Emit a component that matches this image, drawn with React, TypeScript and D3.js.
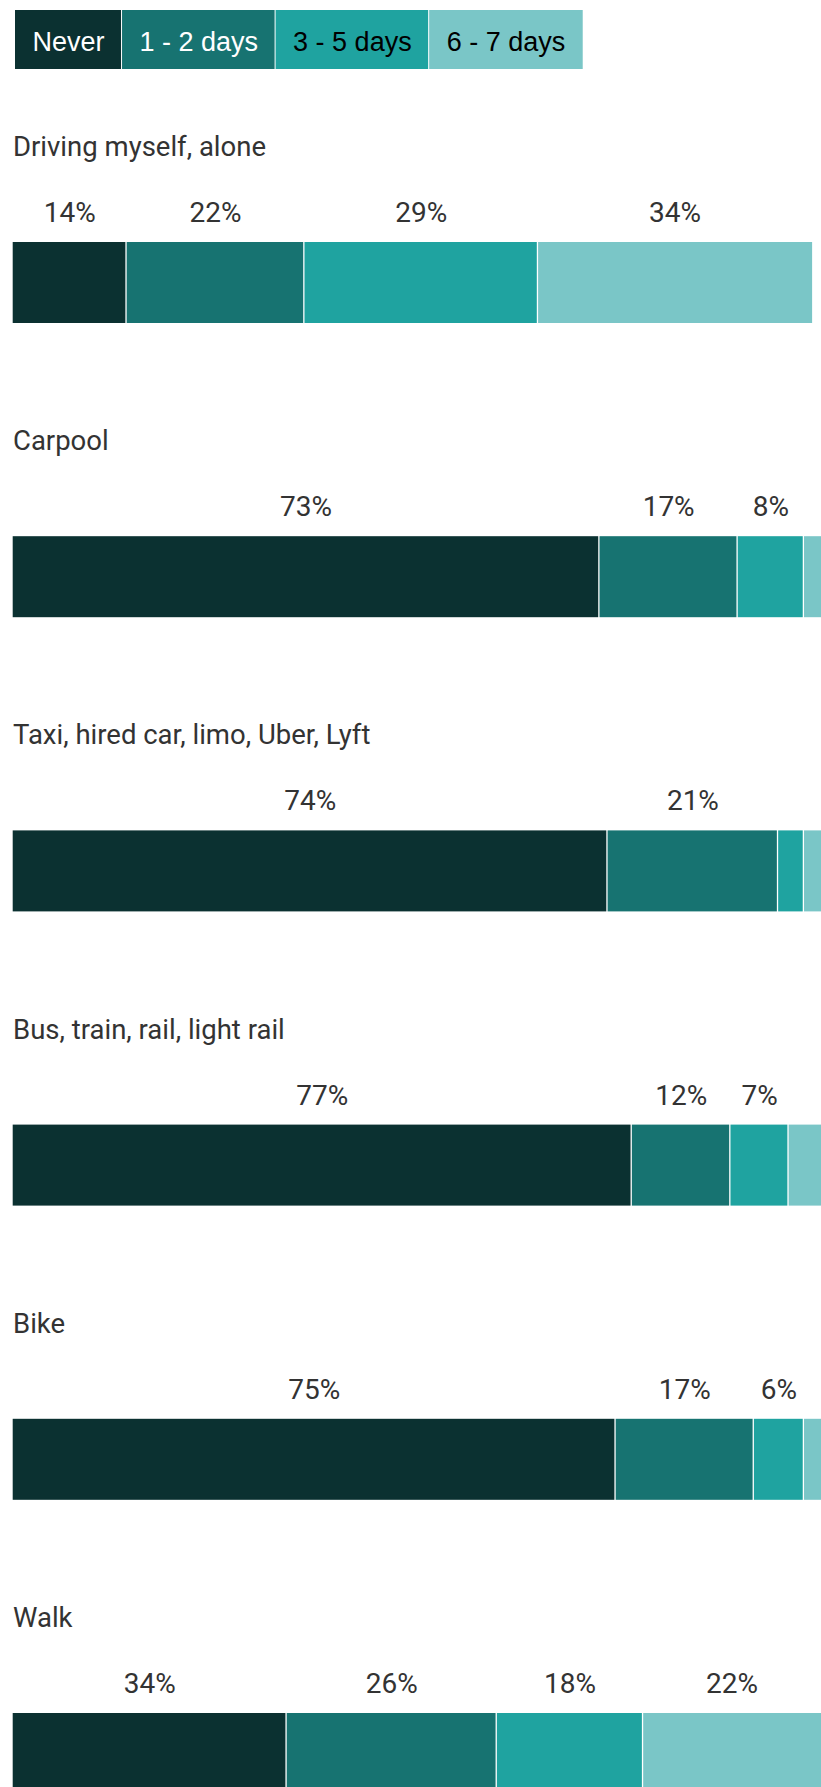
import React, { useEffect, useRef } from "react";
import * as d3 from "d3";

const categories = [
  "Driving myself, alone",
  "Carpool",
  "Taxi, hired car, limo, Uber, Lyft",
  "Bus, train, rail, light rail",
  "Bike",
  "Walk",
];
const seriesNames = ["Never", "1 - 2 days", "3 - 5 days", "6 - 7 days"];
const never = [14.1, 72.6, 73.6, 76.6, 74.6, 33.9];
const oneTwoDays = [22.0, 17.1, 21.1, 12.2, 17.1, 26.0];
const threeFiveDays = [28.9, 8.2, 3.2, 7.2, 6.2, 18.1];
const sixSevenDays = [33.9, 2.1, 2.1, 4.0, 2.1, 22.0];

const colors = ["#0b3131", "#177371", "#1fa3a0", "#7ac6c7"];
const legendTextColors = ["#ffffff", "#ffffff", "#000000", "#000000"];

const W = 821;
const H = 1787;

export default function App() {
  const ref = useRef<SVGSVGElement | null>(null);

  useEffect(() => {
    document.body.style.margin = "0";
    const svg = d3.select(ref.current);
    svg.selectAll("*").remove();

    const series = [never, oneTwoDays, threeFiveDays, sixSevenDays];
    const rows = categories.map((c, i) => {
      const vals = series.map((s) => s[i]);
      let acc = 0;
      const segs = vals.map((v, k) => {
        const s = { key: seriesNames[k], k, v, x0: acc, x1: acc + v };
        acc += v;
        return s;
      });
      return { c, i, segs };
    });

    const x = d3.scaleLinear().domain([0, 100]).range([12.7, 821]);
    const y = d3
      .scaleLinear()
      .domain([0, categories.length - 1])
      .range([242, 242 + 5 * 294.2]);
    const barH = 81;
    const gap = 1.3;

    // Legend
    const legend = svg.append("g").attr("transform", "translate(15,10)");
    let lx = 0;
    seriesNames.forEach((name, k) => {
      const g = legend.append("g");
      const t = g
        .append("text")
        .text(name)
        .attr("font-family", "'Liberation Sans', Arial, sans-serif")
        .attr("font-size", 27)
        .attr("fill", legendTextColors[k])
        .attr("text-anchor", "middle")
        .attr("y", 40.5);
      const tw = (t.node() as SVGTextElement).getComputedTextLength();
      const bw = tw + 35;
      g.insert("rect", "text")
        .attr("x", lx)
        .attr("y", 0)
        .attr("width", bw - (k < seriesNames.length - 1 ? 1 : 0))
        .attr("height", 59)
        .attr("fill", colors[k]);
      t.attr("x", lx + bw / 2);
      lx += bw;
    });

    const rowG = svg
      .selectAll("g.row")
      .data(rows)
      .join("g")
      .attr("class", "row")
      .attr("transform", (d) => `translate(0,${y(d.i)})`);

    rowG
      .append("text")
      .attr("x", 13)
      .attr("y", -86)
      .attr("font-family", "Roboto, sans-serif")
      .attr("font-size", 27.5)
      .attr("fill", "#333333")
      .text((d) => d.c);

    rowG
      .selectAll("rect.seg")
      .data((d) => d.segs)
      .join("rect")
      .attr("class", "seg")
      .attr("x", (s) => x(s.x0))
      .attr("y", 0)
      .attr("width", (s) =>
        Math.max(0, x(s.x1) - x(s.x0) - (s.k < 3 ? gap : 0))
      )
      .attr("height", barH)
      .attr("fill", (s) => colors[s.k]);

    rowG
      .selectAll("text.lab")
      .data((d) => d.segs.filter((s) => s.v >= 5))
      .join("text")
      .attr("class", "lab")
      .attr("x", (s) => (x(s.x0) + x(s.x1)) / 2)
      .attr("y", -20)
      .attr("text-anchor", "middle")
      .attr("font-family", "Roboto, sans-serif")
      .attr("font-size", 28)
      .attr("fill", "#333333")
      .text((s) => `${Math.round(s.v)}%`);
  }, []);

  return (
    <svg
      ref={ref}
      width={W}
      height={H}
      style={{ display: "block", position: "absolute", left: 0, top: 0 }}
    />
  );
}
